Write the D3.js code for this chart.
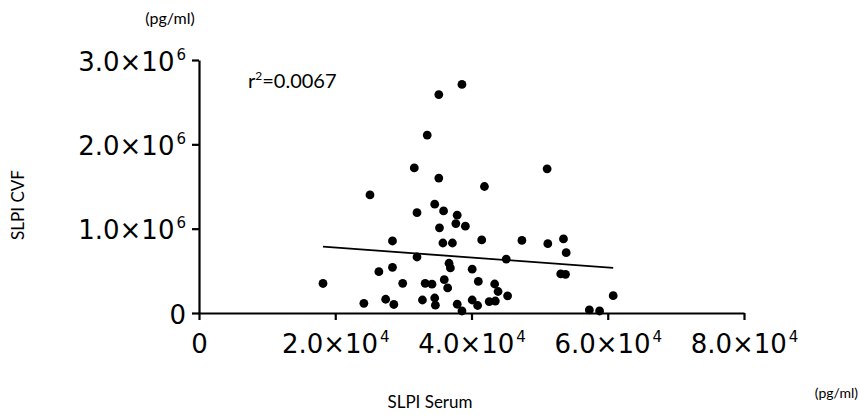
<!DOCTYPE html>
<html>
<head>
<meta charset="utf-8">
<script src="https://cdn.jsdelivr.net/npm/d3@7"></script>
<style>
  html, body { margin: 0; padding: 0; background: #fff; }
  svg { display: block; }
</style>
</head>
<body>
<svg id="chart" width="860" height="418"></svg>
<script>
// ---- data ----
const serumX = [38600,35200,33500,31600,35200,41900,25100,34600,32000,35900,
  37900,37700,39100,35300,28400,35800,37200,41500,47400,32000,
  45100,36700,36900,28400,26400,40100,18200,29900,33200,34200,
  36000,36500,41000,43400,43900,45300,24200,27400,28600,32800,
  34600,34700,37900,38600,40100,40900,42600,43500,51100,51200,
  53500,53900,53100,53800,60800,57300,58800];
const cvfY = [2710000,2590000,2110000,1720000,1600000,1500000,1400000,1290000,1190000,1210000,
  1160000,1060000,1030000,1010000,854000,830000,830000,866000,860000,664000,
  640000,590000,534000,542000,490000,520000,350000,352000,352000,342000,
  395000,297000,374000,344000,255000,204000,115000,163000,101000,154000,
  178000,93000,104000,24000,154000,89000,136000,142000,1710000,822000,
  878000,715000,463000,459000,205000,36000,24000];
const fitIntercept = 892500;   // regression line
const fitSlope = -5.86;
const rSquaredLabel = "0.0067";
const xTickValues = [0, 20000, 40000, 60000, 80000];
const xTickMantissa = ["0", "2.0×10", "4.0×10", "6.0×10", "8.0×10"];
const xTickExp = ["", "4", "4", "4", "4"];
const yTickValues = [0, 1000000, 2000000, 3000000];
const yTickMantissa = ["0", "1.0×10", "2.0×10", "3.0×10"];
const yTickExp = ["", "6", "6", "6"];
const xTitle = "SLPI Serum";
const yTitle = "SLPI CVF";
const unitLabel = "(pg/ml)";

// ---- drawing ----
const svg = d3.select("#chart");
const x = d3.scaleLinear().domain([0, 80000]).range([199, 744]);
const y = d3.scaleLinear().domain([0, 3000000]).range([313, 60]);

const tickFont = "'DejaVu Sans', Verdana, sans-serif";
const labelFont = "Lato, 'Open Sans', sans-serif";

function styleAxis(g) {
  g.select(".domain").attr("stroke", "#000").attr("stroke-width", 2.2);
  g.selectAll(".tick line").attr("stroke", "#000").attr("stroke-width", 2.2);
}
function sciLabels(g, mant, exp) {
  g.selectAll(".tick text").each(function(d, i) {
    const t = d3.select(this);
    t.text(null)
      .attr("font-family", tickFont)
      .attr("font-size", 26)
      .attr("fill", "#000");
    t.append("tspan").text(mant[i]);
    if (exp[i]) {
      t.append("tspan").text(exp[i])
        .attr("font-size", 15)
        .attr("dx", 2)
        .attr("dy", -11);
    }
  });
}

const xAxis = d3.axisBottom(x)
  .tickValues(xTickValues)
  .tickSize(7).tickSizeOuter(0).tickPadding(12);
const gx = svg.append("g").attr("transform", "translate(0,313)").call(xAxis);
styleAxis(gx);
sciLabels(gx, xTickMantissa, xTickExp);
gx.selectAll(".tick text").attr("dy", null).attr("y", 40);

const yAxis = d3.axisLeft(y)
  .tickValues(yTickValues)
  .tickSize(7).tickSizeOuter(0).tickPadding(6);
const gy = svg.append("g").attr("transform", "translate(199,0)").call(yAxis);
styleAxis(gy);
sciLabels(gy, yTickMantissa, yTickExp);
gy.selectAll(".tick text").attr("dy", null).attr("y", 10);

// regression line
const xmin = d3.min(serumX), xmax = d3.max(serumX);
svg.append("line")
  .attr("x1", x(xmin)).attr("y1", y(fitIntercept + fitSlope * xmin))
  .attr("x2", x(xmax)).attr("y2", y(fitIntercept + fitSlope * xmax))
  .attr("stroke", "#000").attr("stroke-width", 1.8);

// points
svg.append("g").selectAll("circle")
  .data(serumX.map((v, i) => [v, cvfY[i]]))
  .join("circle")
  .attr("cx", d => x(d[0]))
  .attr("cy", d => y(d[1]))
  .attr("r", 4.4)
  .attr("fill", "#000");

// texts
const r2 = svg.append("text")
  .attr("x", 248).attr("y", 88)
  .attr("font-family", labelFont).attr("font-size", 20).attr("fill", "#000");
r2.append("tspan").text("r");
r2.append("tspan").text("2").attr("font-size", 12).attr("dy", -8);
r2.append("tspan").text("=" + rSquaredLabel).attr("dy", 8);

svg.append("text")
  .attr("x", 170).attr("y", 24)
  .attr("text-anchor", "middle")
  .attr("font-family", labelFont).attr("font-size", 16).attr("fill", "#000")
  .text(unitLabel);

svg.append("text")
  .attr("x", 858).attr("y", 398)
  .attr("text-anchor", "end")
  .attr("font-family", labelFont).attr("font-size", 14).attr("fill", "#000")
  .text(unitLabel);

svg.append("text")
  .attr("x", 430).attr("y", 408)
  .attr("text-anchor", "middle")
  .attr("font-family", labelFont).attr("font-size", 17).attr("fill", "#000")
  .text(xTitle);

svg.append("text")
  .attr("transform", "translate(24,205) rotate(-90)")
  .attr("text-anchor", "middle")
  .attr("font-family", labelFont).attr("font-size", 17).attr("fill", "#000")
  .text(yTitle);
</script>
</body>
</html>
